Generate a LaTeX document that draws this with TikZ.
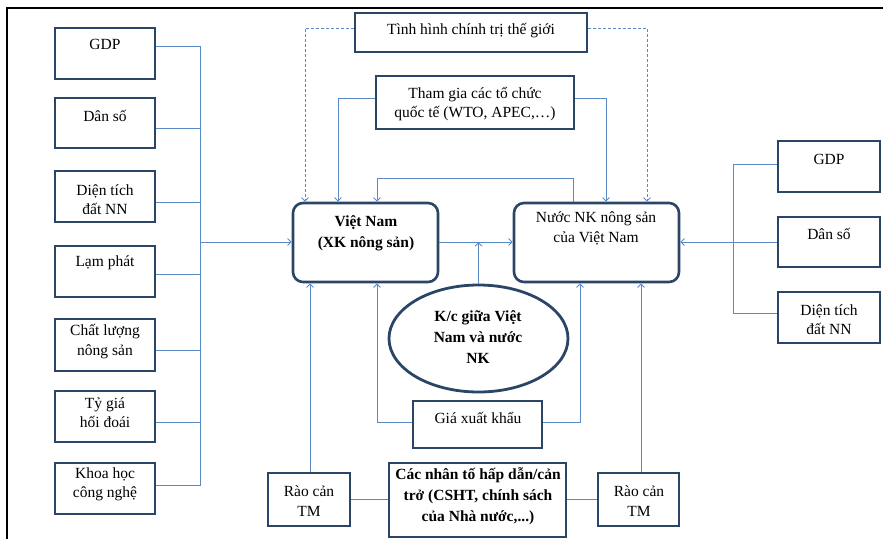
\documentclass[tikz,border=0pt]{standalone}
\usepackage{fontspec}
\setmainfont{Liberation Serif}
\usetikzlibrary{arrows.meta,shapes.geometric}
\definecolor{boxc}{HTML}{2A4566}
\definecolor{linec}{HTML}{5A8AC6}
\begin{document}
\begin{tikzpicture}[x=1pt,y=-1pt,
  bx/.style={draw=boxc, line width=2.6pt, inner sep=0pt},
  rbx/.style={bx, rounded corners=10pt},
  ebx/.style={draw=boxc, line width=2.8pt, ellipse, inner sep=0pt},
  txt/.style={inner sep=0pt, align=center, font=\fontsize{15.5}{19.5}\selectfont},
  btxt/.style={inner sep=0pt, align=center, font=\fontsize{15.5}{21}\selectfont\bfseries},
  conn/.style={draw=linec, line width=0.9pt},
  arr/.style={conn, -{Straight Barb[length=3.5pt,width=7pt]}},
  dsh/.style={arr, dash pattern=on 3pt off 2pt}]
\useasboundingbox (0,0) rectangle (883,539);
\draw[line width=1.8pt] (883,8) -- (7,8) -- (7,539);

% left boxes
\node[bx, minimum width=100pt, minimum height=51pt] (gdpL) at (105,53.5) {};
\node[bx, minimum width=100pt, minimum height=50pt] (danL) at (105,123) {};
\node[bx, minimum width=100pt, minimum height=51pt] (dtL) at (105,196.5) {};
\node[bx, minimum width=100pt, minimum height=51pt] (lpL) at (105,271.5) {};
\node[bx, minimum width=100pt, minimum height=52pt] (clL) at (105,345) {};
\node[bx, minimum width=100pt, minimum height=51pt] (tgL) at (105,416.5) {};
\node[bx, minimum width=100pt, minimum height=51pt] (khL) at (105,488.5) {};
\node[txt] (tgdpL) at (105,44) {GDP};
\node[txt] (tdanL) at (105,116) {Dân số};
\node[txt] (tdtL) at (105,199.5) {Diện tích\\đất NN};
\node[txt] (tlpL) at (105,263) {Lạm phát};
\node[txt] (tclL) at (105,341.5) {Chất lượng\\nông sản};
\node[txt] (ttgL) at (105,412.5) {Tỷ giá\\hối đoái};
\node[txt] (tkhL) at (105,484.5) {Khoa học\\công nghệ};

% centre
\node[rbx, minimum width=145pt, minimum height=79pt] (vn) at (365.5,242.5) {};
\node[btxt] (tvn) at (366,233.5) {Việt Nam\\(XK nông sản)};
\node[rbx, minimum width=165pt, minimum height=79pt] (nk) at (596.5,242.5) {};
\node[txt] (tnk) at (596,228.5) {Nước NK nông sản\\của Việt Nam};
\node[bx, minimum width=198pt, minimum height=53pt] (tg) at (475,102.5) {};
\node[txt] (ttg) at (475,104) {Tham gia các tổ chức\\quốc tế (WTO, APEC,…)};
\node[bx, minimum width=232pt, minimum height=39pt] (th) at (471,32.5) {};
\node[txt] (tth) at (471,31) {Tình hình chính trị thế giới};
\node[ebx, minimum width=179pt, minimum height=107pt] (ell) at (478.5,338.5) {};
\node[btxt] (tell) at (478,337.5) {K/c giữa Việt\\Nam và nước\\NK};
\node[bx, minimum width=129pt, minimum height=47pt] (gia) at (477.5,424.5) {};
\node[txt] (tgia) at (478,418) {Giá xuất khẩu};
\node[bx, minimum width=82pt, minimum height=53pt] (rcL) at (309,499.5) {};
\node[txt] (trcL) at (309,501) {Rào cản\\TM};
\node[bx, minimum width=177pt, minimum height=74pt] (cnt) at (477.5,500) {};
\node[btxt] (tcnt) at (478,496) {Các nhân tố hấp dẫn/cản\\trở (CSHT, chính sách\\của Nhà nước,...)};
\node[bx, minimum width=81pt, minimum height=53pt] (rcR) at (638.5,499.5) {};
\node[txt] (trcR) at (639,501) {Rào cản\\TM};

% right boxes
\node[bx, minimum width=102pt, minimum height=51pt] (gdpR) at (829,166.5) {};
\node[bx, minimum width=102pt, minimum height=50pt] (danR) at (829,242) {};
\node[bx, minimum width=102pt, minimum height=51pt] (dtR) at (829,317.5) {};
\node[txt] (tgdpR) at (829,159) {GDP};
\node[txt] (tdanR) at (829,234) {Dân số};
\node[txt] (tdtR) at (829,319.5) {Diện tích\\đất NN};

% left bus
\draw[conn] (gdpL.east|-0,46) -| (200,485) -- (khL.east|-0,485);
\draw[conn] (danL.east|-0,128) -- (200,128);
\draw[conn] (dtL.east|-0,202) -- (200,202);
\draw[conn] (lpL.east|-0,274) -- (200,274);
\draw[conn] (clL.east|-0,350) -- (200,350);
\draw[conn] (tgL.east|-0,422) -- (200,422);
\draw[arr] (200,242) -- (vn.west|-0,242);

% centre connectors
\draw[arr] (vn.east|-0,242) -- (nk.west|-0,242);
\draw[arr] (ell.north) -- (ell.north|-0,242);
\draw[arr] (nk.north-|573,0) -- (573,178) -| (vn.north-|377,0);
\draw[arr] (tg.west|-0,98) -| (vn.north-|338,0);
\draw[arr] (tg.east|-0,98) -| (nk.north-|606,0);
\draw[dsh] (th.west|-0,28) -| (vn.north-|305,0);
\draw[dsh] (th.east|-0,28) -| (nk.north-|647,0);
\draw[arr] (gia.west|-0,422) -| (vn.south-|377,0);
\draw[arr] (gia.east|-0,422) -| (nk.south-|580,0);
\draw[arr] (rcL.north-|310,0) -- (vn.south-|310,0);
\draw[arr] (rcR.north-|641,0) -- (nk.south-|641,0);
\draw[conn] (rcL.east|-0,499) -- (cnt.west|-0,499);
\draw[conn] (cnt.east|-0,499) -- (rcR.west|-0,499);

% right bus
\draw[arr] (danR.west|-0,242) -- (nk.east|-0,242);
\draw[conn] (gdpR.west|-0,164) -| (733,313) -- (dtR.west|-0,313);
\end{tikzpicture}
\end{document}
